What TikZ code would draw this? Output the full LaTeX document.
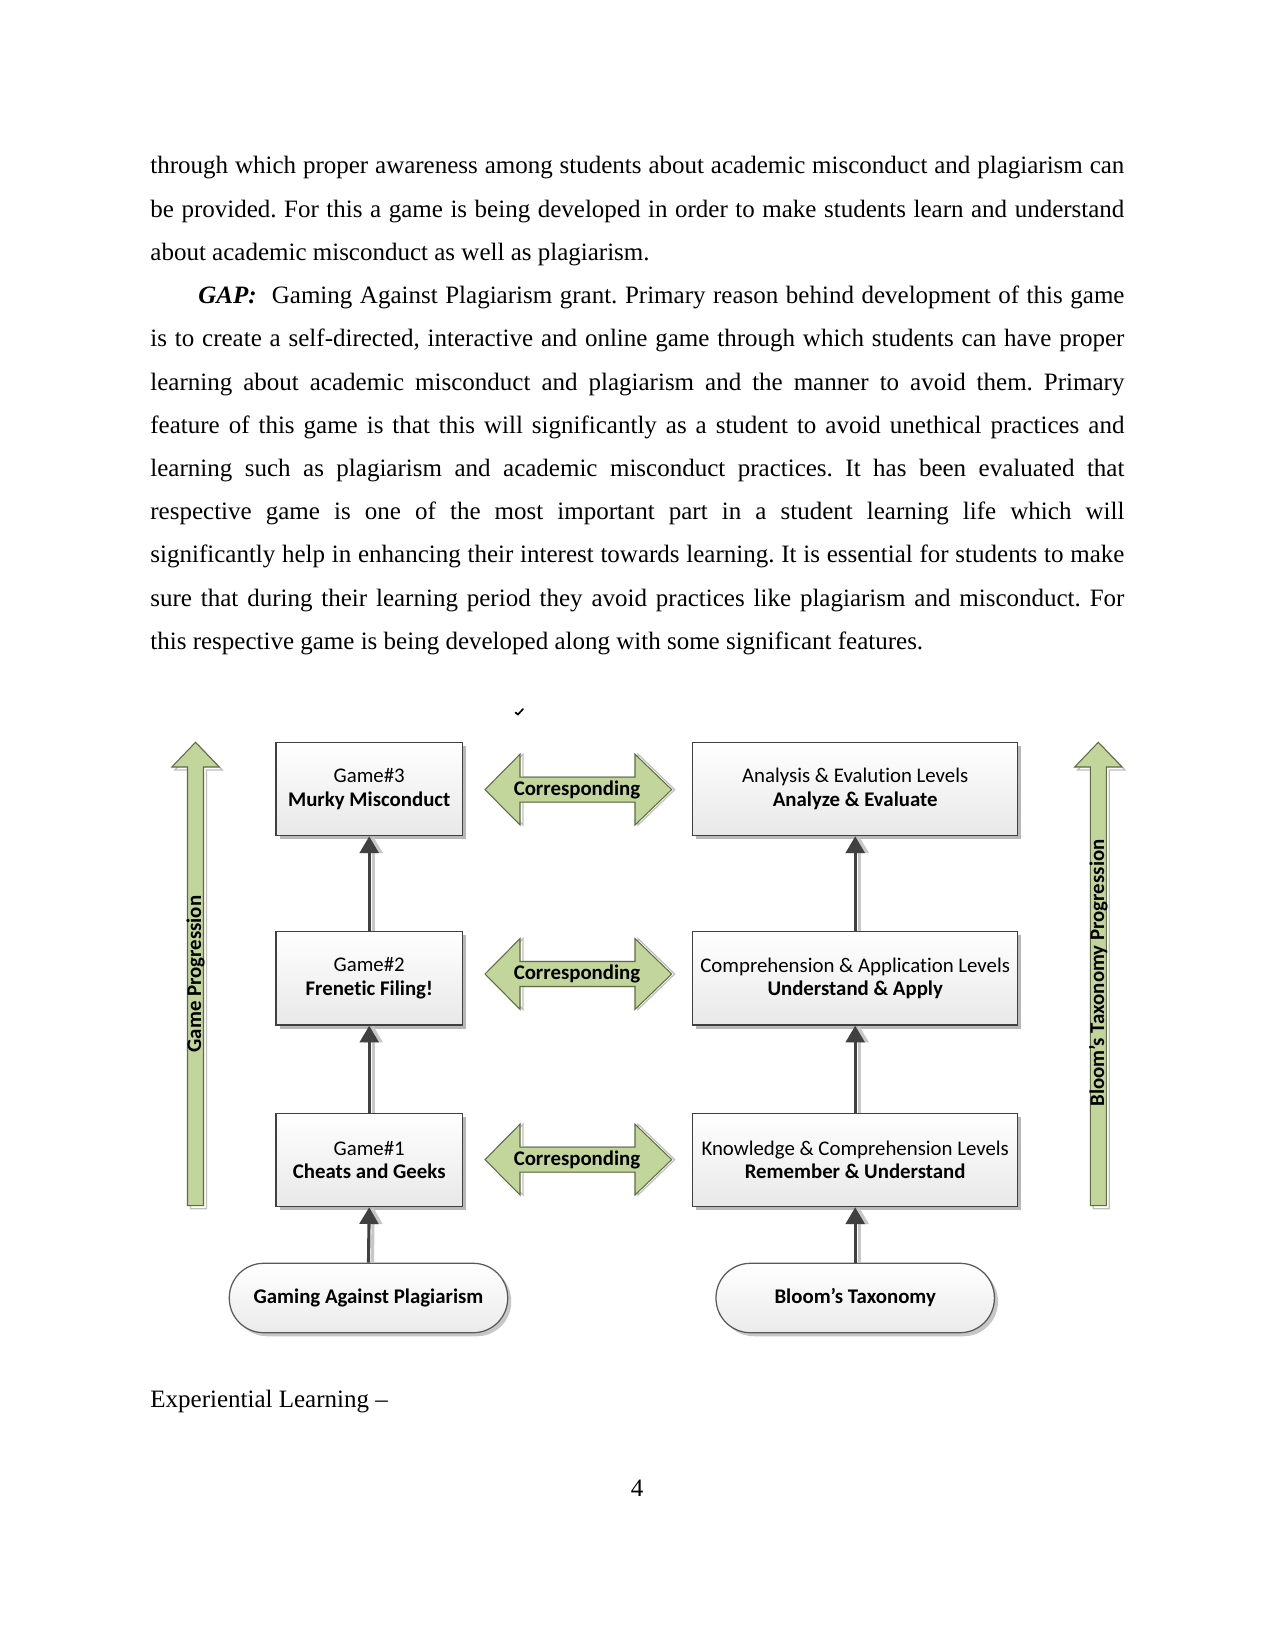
\documentclass[tikz,border=0pt]{standalone}
\usepackage{fontspec}
\setmainfont{Liberation Serif}
\newfontfamily\dfont[Ligatures=NoCommon]{Carlito}
\usepackage{graphicx}
\usetikzlibrary{arrows.meta,shadows}
\frenchspacing
\definecolor{grn}{HTML}{C2D59A}
\definecolor{grnline}{HTML}{5E6B45}
\definecolor{conn}{HTML}{404040}
\definecolor{boxline}{HTML}{404040}
\newcommand\pxu{0.48pt}
\newsavebox\linebox
\newcommand\jline[2]{\sbox\linebox{#2}\ifdim\wd\linebox>#1\relax\resizebox{#1}{\ht\linebox}{\usebox\linebox}\else\makebox[#1][s]{#2}\fi}
\newcommand\corrarrow[2]{%
  \draw[grnshadow] (488,#1) -- (523,#1-35.4) -- (523,#1-12.5) -- (638,#1-12.5) -- (638,#1-35.4) -- (674.7,#1) -- (638,#1+35.4) -- (638,#1+12.5) -- (523,#1+12.5) -- (523,#1+35.4) -- cycle;
  \draw[grnarrow] (485,#1) -- (520,#1-35.4) -- (520,#1-12.5) -- (635,#1-12.5) -- (635,#1-35.4) -- (671.7,#1) -- (635,#1+35.4) -- (635,#1+12.5) -- (520,#1+12.5) -- (520,#1+35.4) -- cycle;
  \node[corrtext] (#2) at (577,#1) {Corresponding};}
\newcommand\vgreen[2]{% #1 = centre x, #2 = name
  \draw[grnshadow] (#1+3,745.3) -- (#1+26.7,770) -- (#1+11,770) -- (#1+11,1208.7) -- (#1-5,1208.7) -- (#1-5,770) -- (#1-20.7,770) -- cycle;
  \draw[grnarrow] (#1,742.3) -- (#1+23.7,767) -- (#1+8,767) -- (#1+8,1205.7) -- (#1-8,1205.7) -- (#1-8,767) -- (#1-23.7,767) -- cycle;}
\tikzset{
  body/.style={anchor=base west, inner sep=0pt, font=\fontsize{12}{14}\selectfont},
  dtext/.style={font=\dfont\fontsize{10}{11.3}\selectfont},
  boxbase/.style={dtext, draw=boxline, line width=0.6pt, top color=white, bottom color=black!9,
    minimum height=93.4*\pxu, inner sep=0pt, align=center,
    drop shadow={shadow xshift=1.7pt, shadow yshift=-1.7pt, fill=black!28, opacity=1}},
  gbox/.style={boxbase, minimum width=186.3*\pxu},
  bbox/.style={boxbase, minimum width=325*\pxu},
  stad/.style={dtext, font=\dfont\bfseries\fontsize{10}{11.3}\selectfont, draw=black!65, line width=0.6pt,
    top color=white, bottom color=black!8, rounded corners=16.5pt,
    minimum width=278.4*\pxu, minimum height=69.4*\pxu, inner sep=0pt,
    drop shadow={shadow xshift=1.7pt, shadow yshift=-1.7pt, fill=black!22, opacity=1}},
  grnarrow/.style={fill=grn, draw=grnline, line width=0.5pt, line join=miter},
  grnshadow/.style={fill=white, draw=black!25, line width=0.6pt},
  corrtext/.style={dtext, font=\dfont\bfseries\fontsize{10}{11.3}\selectfont, inner sep=0pt},
  sidetext/.style={dtext, font=\dfont\bfseries\fontsize{10}{11.3}\selectfont, inner sep=0pt, rotate=90},
  conn/.style={draw=conn, line width=1.5pt, -{Triangle[width=9pt,length=8pt]}},
  connsh/.style={draw=black!22, line width=1.5pt, -{Triangle[width=9pt,length=8pt]}}
}
\begin{document}
\begin{tikzpicture}[x=0.48pt,y=-0.48pt]
\useasboundingbox (0,0) rectangle (1275,1651);
\fill[white] (0,0) rectangle (1275,1651);

% body text
\node[body] (l1) at (150,174.0) {\jline{467.5pt}{through which proper awareness among students about academic misconduct and plagiarism can}};
\node[body] (l2) at (150,217.2) {\jline{467.5pt}{be provided. For this a game is being developed in order to make students learn and understand}};
\node[body] (l3) at (150,260.4) {about academic misconduct as well as plagiarism.};
\node[body] (l4) at (198,303.6) {\jline{444.5pt}{\textbf{\textit{GAP:}}\ \ Gaming Against Plagiarism grant. Primary reason behind development of this game}};
\node[body] (l5) at (150,346.8) {\jline{467.5pt}{is to create a self-directed, interactive and online game through which students can have proper}};
\node[body] (l6) at (150,390.0) {\jline{467.5pt}{learning about academic misconduct and plagiarism and the manner to avoid them. Primary}};
\node[body] (l7) at (150,433.2) {\jline{467.5pt}{feature of this game is that this will significantly as a student to avoid unethical practices and}};
\node[body] (l8) at (150,476.4) {\jline{467.5pt}{learning such as plagiarism and academic misconduct practices. It has been evaluated that}};
\node[body] (l9) at (150,519.6) {\jline{467.5pt}{respective game is one of the most important part in a student learning life which will}};
\node[body] (l10) at (150,562.8) {\jline{467.5pt}{significantly help in enhancing their interest towards learning. It is essential for students to make}};
\node[body] (l11) at (150,606.0) {\jline{467.5pt}{sure that during their learning period they avoid practices like plagiarism and misconduct. For}};
\node[body] (l12) at (150,649.2) {this respective game is being developed along with some significant features.};

% small tick mark
\draw[line width=0.8pt, line cap=round] (515.5,712.5) -- (518,714.5) -- (523,709);

% side progression arrows
\vgreen{195.5}{gp}
\node[sidetext] (gpt) at (195.5,974) {Game Progression};
\vgreen{1098.3}{bp}
\node[sidetext] (bpt) at (1098.3,973) {Bloom’s Taxonomy Progression};

% boxes
\node[gbox] (g3) at (369.2,789.0) {Game\#3\\\textbf{Murky Misconduct}};
\node[gbox] (g2) at (369.2,978.4) {Game\#2\\\textbf{Frenetic Filing!}};
\node[gbox] (g1) at (369.2,1160.0) {Game\#1\\\textbf{Cheats and Geeks}};
\node[bbox] (b3) at (855.2,789.0) {Analysis \& Evalution Levels\\\textbf{Analyze \& Evaluate}};
\node[bbox] (b2) at (855.2,978.4) {Comprehension \& Application Levels\\\textbf{Understand \& Apply}};
\node[bbox] (b1) at (855.2,1160.0) {Knowledge \& Comprehension Levels\\\textbf{Remember \& Understand}};
\node[stad] (gap) at (368.5,1298) {\raisebox{-1pt}{Gaming Against Plagiarism}};
\node[stad] (bt) at (855.2,1298) {\raisebox{-1pt}{Bloom’s Taxonomy}};

% corresponding arrows
\corrarrow{789.6}{c3}
\corrarrow{974.0}{c2}
\corrarrow{1159.6}{c1}

% connectors
\foreach \a/\b in {gap/g1,g1/g2,g2/g3,bt/b1,b1/b2,b2/b3}{
  \draw[connsh] ([xshift=1.9pt]\a.north) -- ([xshift=1.9pt]\b.south);
  \draw[conn] (\a.north) -- (\b.south);
}

% heading and page number
\node[body] (exp) at (150,1407) {Experiential Learning –};
\node[body, anchor=base] (pn) at (637,1496) {4};
\end{tikzpicture}
\end{document}
